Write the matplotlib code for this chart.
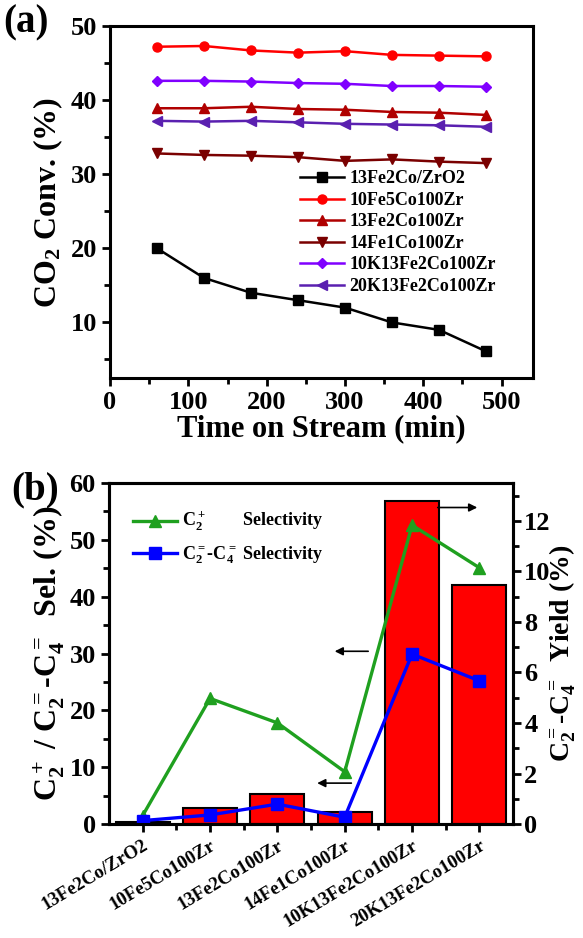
import matplotlib
matplotlib.use('Agg')
import matplotlib.pyplot as plt
import numpy as np

plt.rcParams['font.family'] = 'Liberation Serif'
plt.rcParams['font.weight'] = 'bold'
plt.rcParams['axes.labelweight'] = 'bold'
plt.rcParams['mathtext.fontset'] = 'custom'
plt.rcParams['mathtext.rm'] = 'Liberation Serif:bold'
plt.rcParams['mathtext.bf'] = 'Liberation Serif:bold'
plt.rcParams['mathtext.it'] = 'Liberation Serif:bold'
plt.rcParams['mathtext.default'] = 'bf'

### Data panel (a)
time_min = [60, 120, 180, 240, 300, 360, 420, 480]
conv_13Fe2Co_ZrO2 = [20.0, 16.0, 14.0, 13.0, 12.0, 10.0, 9.0, 6.1]
conv_10Fe5Co100Zr = [47.2, 47.3, 46.7, 46.4, 46.6, 46.1, 46.0, 45.9]
conv_13Fe2Co100Zr = [38.9, 38.9, 39.1, 38.8, 38.7, 38.4, 38.3, 38.0]
conv_14Fe1Co100Zr = [32.8, 32.6, 32.5, 32.3, 31.8, 32.0, 31.7, 31.5]
conv_10K13Fe2Co100Zr = [42.6, 42.6, 42.5, 42.3, 42.2, 41.9, 41.9, 41.8]
conv_20K13Fe2Co100Zr = [37.2, 37.1, 37.2, 37.0, 36.8, 36.7, 36.6, 36.4]

### Data panel (b)
catalysts = ['13Fe2Co/ZrO2', '10Fe5Co100Zr', '13Fe2Co100Zr', '14Fe1Co100Zr',
             '10K13Fe2Co100Zr', '20K13Fe2Co100Zr']
c2plus_sel = [1.5, 22.1, 17.8, 9.2, 52.6, 45.1]
olefin_sel = [0.6, 1.6, 3.5, 1.2, 29.9, 25.2]
olefin_yield = [0.08, 0.63, 1.2, 0.49, 12.8, 9.45]

fig = plt.figure(figsize=(5.83, 9.38), dpi=100)


def bold_ticks(ax):
    for lab in ax.get_xticklabels() + ax.get_yticklabels():
        lab.set_fontweight('bold')


#### Plot (a)
ax1 = fig.add_axes([0.1887, 0.597, 0.7255, 0.3753])
series = [
    (conv_13Fe2Co_ZrO2, '13Fe2Co/ZrO2', 'black', 's'),
    (conv_10Fe5Co100Zr, '10Fe5Co100Zr', '#ff0000', 'o'),
    (conv_13Fe2Co100Zr, '13Fe2Co100Zr', '#b00000', '^'),
    (conv_14Fe1Co100Zr, '14Fe1Co100Zr', '#7a0000', 'v'),
    (conv_10K13Fe2Co100Zr, '10K13Fe2Co100Zr', '#8000ff', 'D'),
    (conv_20K13Fe2Co100Zr, '20K13Fe2Co100Zr', '#5a20b0', '<'),
]
for vals, lab, col, mk in series:
    ms = 5 if mk == 'D' else 6.5
    ax1.plot(time_min, vals, color=col, marker=mk, ms=ms, lw=1.8, label=lab)

ax1.set_xlim(0, 540)
ax1.set_ylim(2.5, 50)
ax1.set_xticks([0, 100, 200, 300, 400, 500])
ax1.set_xticks(np.arange(50, 540, 100), minor=True)
ax1.set_yticks([10, 20, 30, 40, 50])
ax1.set_yticks([5, 15, 25, 35, 45], minor=True)
ax1.tick_params(which='both', direction='out', width=2, labelsize=19, top=False, right=False)
ax1.tick_params(which='major', length=6)
ax1.tick_params(which='minor', length=4)
bold_ticks(ax1)
for s in ax1.spines.values():
    s.set_linewidth(2.2)
ax1.set_xlabel('Time on Stream (min)', fontsize=22, fontweight='bold', labelpad=0)
ax1.set_ylabel('CO$_2$ Conv. (%)', fontsize=23, fontweight='bold', labelpad=4)
ax1.legend(loc='upper left', bbox_to_anchor=(0.45, 0.59), frameon=False,
           prop={'size': 13, 'weight': 'bold'},
           handlelength=2.4, handletextpad=0.3, labelspacing=0.25, borderpad=0, borderaxespad=0)
fig.text(0.005, 0.995, '(a)', fontsize=28, fontweight='bold', va='top', ha='left')

#### Plot (b)
axb = fig.add_axes([0.187, 0.1215, 0.693, 0.3635])
axr = axb.twinx()
x = np.arange(len(catalysts))
axr.bar(x, olefin_yield, width=0.8, color='#ff0000', edgecolor='black', lw=1.5)
axr.set_ylim(0, 13.5)
axr.set_yticks([0, 2, 4, 6, 8, 10, 12])
axr.set_yticks([1, 3, 5, 7, 9, 11, 13], minor=True)

axb.set_zorder(axr.get_zorder() + 1)
axb.patch.set_visible(False)
axb.plot(x, c2plus_sel, color='#1fa01f', marker='^', ms=9, lw=2.4,
         label='C$_2^+$        Selectivity')
axb.plot(x, olefin_sel, color='#0000ff', marker='s', ms=8, lw=2.4,
         label='C$_2^=$-C$_4^=$ Selectivity')
axb.set_xlim(-0.5, 5.5)
axb.set_ylim(0, 60)
axb.set_yticks([0, 10, 20, 30, 40, 50, 60])
axb.set_yticks([5, 15, 25, 35, 45, 55], minor=True)
axb.set_xticks(x)
axb.set_xticks(x[:-1] + 0.5, minor=True)
axb.set_xticklabels(catalysts, rotation=31, ha='right', rotation_mode='anchor')

for a in (axb, axr):
    a.tick_params(which='both', direction='out', width=2, labelsize=19, top=False)
    a.tick_params(which='major', length=6)
    a.tick_params(which='minor', length=4)
    for s in a.spines.values():
        s.set_linewidth(2.2)
axb.tick_params(axis='x', labelsize=13.5)
axb.tick_params(axis='y', right=False)
axr.tick_params(axis='y', pad=2)
bold_ticks(axb)
bold_ticks(axr)

axb.set_ylabel('C$_2^+$ / C$_2^=$-C$_4^=$  Sel. (%)', fontsize=23, fontweight='bold', labelpad=2)
axr.set_ylabel('C$_2^=$-C$_4^=$  Yield (%)', fontsize=20, fontweight='bold', labelpad=-2)

# arrows pointing to axes
axb.annotate('', xy=(5.01, 55.7), xytext=(4.34, 55.7),
             arrowprops=dict(arrowstyle='-|>', color='black', lw=1.2, mutation_scale=12))
axb.annotate('', xy=(2.81, 30.4), xytext=(3.39, 30.4),
             arrowprops=dict(arrowstyle='-|>', color='black', lw=1.2, mutation_scale=12))
axb.annotate('', xy=(2.55, 7.2), xytext=(3.14, 7.2),
             arrowprops=dict(arrowstyle='-|>', color='black', lw=1.2, mutation_scale=12))

axb.legend(loc='upper left', bbox_to_anchor=(0.06, 0.92), frameon=False,
           prop={'size': 13, 'weight': 'bold'},
           handlelength=2.4, handletextpad=0.3, labelspacing=0.6, borderpad=0, borderaxespad=0)
fig.text(0.02, 0.497, '(b)', fontsize=28, fontweight='bold', va='top', ha='left')

plt.savefig('out.png', dpi=100)
